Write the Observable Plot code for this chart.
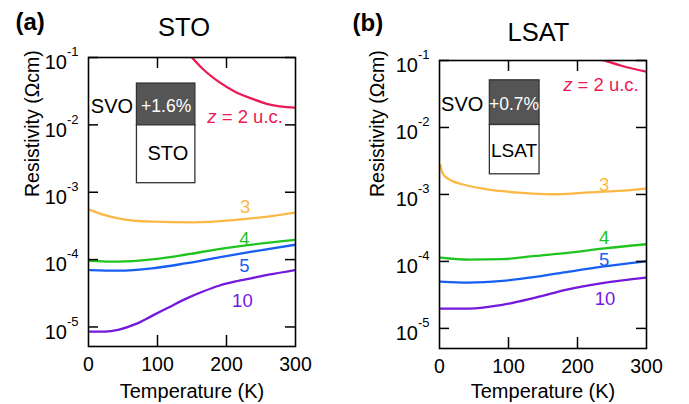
<!DOCTYPE html>
<html><head><meta charset="utf-8">
<script src="https://cdn.jsdelivr.net/npm/d3@7"></script>
<script src="https://cdn.jsdelivr.net/npm/@observablehq/plot@0.6"></script>
<style>
body{margin:0;background:#fff;}
#wrap{display:flex;width:689px;height:404px;overflow:hidden;}
</style></head><body><div id="wrap"></div>
<script>
// ---------- data ----------
// Panel (a): SVO on STO
const T_STO_2  = [130, 140, 150, 165, 189, 213, 237, 261, 300];
const R_STO_2  = [0.178, 0.132, 0.1, 0.0686, 0.0434, 0.0308, 0.0245, 0.0202, 0.018];
const T_STO_3  = [2, 20, 43, 92, 150, 213, 260, 300];
const R_STO_3  = [5.47e-4, 4.68e-4, 4.1e-4, 3.66e-4, 3.58e-4, 3.89e-4, 4.35e-4, 4.99e-4];
const T_STO_45 = [2, 43, 92, 140, 189, 237, 300];
const R_STO_4  = [9.6e-5, 9.33e-5, 1.007e-4, 1.18e-4, 1.435e-4, 1.667e-4, 1.96e-4];
const R_STO_5  = [7.0e-5, 6.84e-5, 7.4e-5, 8.77e-5, 1.079e-4, 1.312e-4, 1.667e-4];
const T_STO_10 = [2, 24, 43, 68, 92, 116, 140, 165, 189, 213, 237, 261, 300];
const R_STO_10 = [8.55e-6, 8.55e-6, 9.06e-6, 1.10e-5, 1.46e-5, 1.945e-5, 2.59e-5, 3.33e-5, 4.09e-5, 4.74e-5, 5.32e-5, 5.96e-5, 7.0e-5];

// Panel (b): SVO on LSAT
const T_LSAT_2  = [210, 220, 238.5, 265, 300];
const R_LSAT_2  = [0.124, 0.115, 0.1, 0.0828, 0.068];
const T_LSAT_3  = [1.5, 4, 13.5, 33, 67, 115, 164, 212, 260, 300];
const R_LSAT_3  = [2.73e-3, 2.11e-3, 1.69e-3, 1.42e-3, 1.20e-3, 1.064e-3, 1.007e-3, 1.064e-3, 1.127e-3, 1.222e-3];
const T_LSAT_x  = [1.5, 42.5, 91, 139, 188, 236, 300];
const R_LSAT_4  = [1.14e-4, 1.064e-4, 1.079e-4, 1.208e-4, 1.352e-4, 1.552e-4, 1.807e-4];
const R_LSAT_5  = [5.0e-5, 4.83e-5, 5.12e-5, 5.87e-5, 7.05e-5, 8.36e-5, 1.007e-4];
const R_LSAT_10 = [1.977e-5, 1.977e-5, 2.244e-5, 2.884e-5, 3.846e-5, 4.73e-5, 5.73e-5];

const thicknesses = [2, 3, 4, 5, 10];
const seriesLabels = ["z = 2 u.c.", "3", "4", "5", "10"];
const yTicks = [1e-1, 1e-2, 1e-3, 1e-4, 1e-5];
const xTicks = [0, 100, 200, 300];
const minorXTicks = [100, 200];
const colors = {2: "#ec1a52", 3: "#fbb844", 4: "#1fc41f", 5: "#175ef2", 10: "#7418de"};

// label anchor points (data units)
const STO_labelT = [227, 227, 226, 226, 223];
const STO_labelR = [10**-1.878, 10**-3.213, 10**-3.693, 10**-4.091, 10**-4.612];
const LSAT_labelT = [234, 238.5, 238.5, 238.5, 240];
const LSAT_labelR = [10**-1.369, 10**-2.855, 10**-3.654, 10**-3.98, 10**-4.567];

function rows(Ts, Rs, z) { return Ts.map((T, i) => ({T, R: Rs[i], z})); }

const stoRows = [
  ...rows(T_STO_2, R_STO_2, 2), ...rows(T_STO_3, R_STO_3, 3),
  ...rows(T_STO_45, R_STO_4, 4), ...rows(T_STO_45, R_STO_5, 5),
  ...rows(T_STO_10, R_STO_10, 10)
];
const lsatRows = [
  ...rows(T_LSAT_2, R_LSAT_2, 2), ...rows(T_LSAT_3, R_LSAT_3, 3),
  ...rows(T_LSAT_x, R_LSAT_4, 4), ...rows(T_LSAT_x, R_LSAT_5, 5),
  ...rows(T_LSAT_x, R_LSAT_10, 10)
];

const FONT = '"Liberation Sans", Arial, Helvetica, sans-serif';

function panel(c) {
  const H = 404;
  const fw = c.width - c.mL - c.mR, fh = H - c.mT - c.mB;
  const labels = thicknesses.map((z, i) => ({z, text: seriesLabels[i], T: c.labelT[i], R: c.labelR[i]}));
  const svg = Plot.plot({
    width: c.width, height: H,
    marginLeft: c.mL, marginRight: c.mR, marginTop: c.mT, marginBottom: c.mB,
    style: {fontFamily: FONT, background: "white", overflow: "visible"},
    x: {domain: [0, 300], axis: null},
    y: {type: "log", domain: [c.yMin, 0.1], axis: null},
    marks: [
      Plot.rect([c.inset], {x1: "x1", x2: "x2", y1: "yMid", y2: "yTop", fill: "#555555", stroke: "#333", strokeWidth: 1.3}),
      Plot.rect([c.inset], {x1: "x1", x2: "x2", y1: "yBot", y2: "yMid", fill: "white", stroke: "#333", strokeWidth: 1.3}),
      Plot.text([c.inset], {x: "svoT", y: "textR", text: () => "SVO", lineAnchor: "middle", fontSize: 20, fill: "black"}),
      Plot.text([c.inset], {x: "boxT", y: "textR", text: () => c.strain, lineAnchor: "middle", fontSize: 17.5, fill: "white"}),
      Plot.text([c.inset], {x: "subT", y: "subR", text: () => c.sub, lineAnchor: "middle", fontSize: c.subSize, fill: "black"}),
      Plot.line(c.rows, {x: "T", y: "R", z: "z", stroke: d => colors[d.z], strokeWidth: 2.3, curve: "monotone-x", clip: true}),
      Plot.text(labels, {x: "T", y: "R", text: "text", lineAnchor: "middle", fill: d => colors[d.z], fontSize: 18.5}),
      Plot.frame({stroke: "black", strokeWidth: 1.6}),
      Plot.tickY(yTicks, {y: d => d, stroke: "black", strokeWidth: 1.5, insetRight: fw - 10}),
      Plot.tickY(yTicks, {y: d => d, stroke: "black", strokeWidth: 1.5, insetLeft: fw - 10}),
      Plot.tickX(minorXTicks, {x: d => d, stroke: "black", strokeWidth: 1.5, insetBottom: fh - 11}),
      Plot.tickX(minorXTicks, {x: d => d, stroke: "black", strokeWidth: 1.5, insetTop: fh - 11}),
      Plot.text(yTicks, {y: d => d, frameAnchor: "left", textAnchor: "end", lineAnchor: "middle", dx: -10, dy: 5.4,
        text: d => "10^" + Math.round(Math.log10(d)), fontSize: 20, fill: "black"}),
      Plot.text(xTicks, {x: d => d, frameAnchor: "bottom", lineAnchor: "top", dy: 11,
        text: d => String(d), fontSize: 19.5, fill: "black"}),
      Plot.text(["Temperature (K)"], {frameAnchor: "bottom", lineAnchor: "middle", text: d => d, dy: c.xLabDy, fontSize: 20, fill: "black"}),
      Plot.text(["Resistivity (\u03A9cm)"], {frameAnchor: "left", lineAnchor: "middle", text: d => d, rotate: -90, dx: c.yLabDx, dy: c.yLabDy, fontSize: 19.5, fill: "black"}),
      Plot.text([c.tag], {frameAnchor: "top-left", textAnchor: "start", lineAnchor: "middle", text: d => d, dx: c.tagDx, dy: c.tagDy, fontSize: 24, fontWeight: "bold", fill: "black"}),
      Plot.text([c.title], {frameAnchor: "top", lineAnchor: "middle", text: d => d, dx: c.titleDx, dy: c.titleDy, fontSize: 25.5, fill: "black"})
    ]
  });
  // fix up texts: exponents as superscripts, italic z
  d3.select(svg).selectAll("text").each(function () {
    const el = d3.select(this);
    const s = this.textContent;
    const m = s.match(/^10\^(-?\d+)$/);
    if (m) {
      el.text("10");
      el.append("tspan").attr("dy", -13).attr("font-size", 13).text(m[1]);
    } else if (s === "z = 2 u.c.") {
      el.text(null);
      el.append("tspan").attr("font-style", "italic").text("z");
      el.append("tspan").text(" = 2 u.c.");
    }
  });
  return svg;
}

const wrap = document.getElementById("wrap");
wrap.appendChild(panel({
  width: 345, mL: 88, mR: 50, mT: 57, mB: 58, yMin: 10 ** -5.29,
  rows: stoRows, labelT: STO_labelT, labelR: STO_labelR,
  inset: {x1: 70.2, x2: 154.9, yTop: 10 ** -1.387, yMid: 10 ** -2.007, yBot: 10 ** -2.866,
          svoT: 34, boxT: 112.5, textR: 10 ** -1.725, subT: 115, subR: 10 ** -2.424},
  strain: "+1.6%", sub: "STO", subSize: 20,
  xLabDy: 45.5, yLabDx: -55.7, yLabDy: -5,
  tag: "(a)", tagDx: -73, tagDy: -34.7, title: "STO", titleDx: -8, titleDy: -30
}));
wrap.appendChild(panel({
  width: 344, mL: 94, mR: 43, mT: 60, mB: 56, yMin: 10 ** -5.3,
  rows: lsatRows, labelT: LSAT_labelT, labelR: LSAT_labelR,
  inset: {x1: 73, x2: 145, yTop: 10 ** -1.296, yMid: 10 ** -1.963, yBot: 10 ** -2.699,
          svoT: 32.9, boxT: 108, textR: 10 ** -1.654, subT: 108, subR: 10 ** -2.35},
  strain: "+0.7%", sub: "LSAT", subSize: 19,
  xLabDy: 43, yLabDx: -61.5, yLabDy: -7.5,
  tag: "(b)", tagDx: -87, tagDy: -37, title: "LSAT", titleDx: -4.5, titleDy: -28
}));
</script></body></html>
